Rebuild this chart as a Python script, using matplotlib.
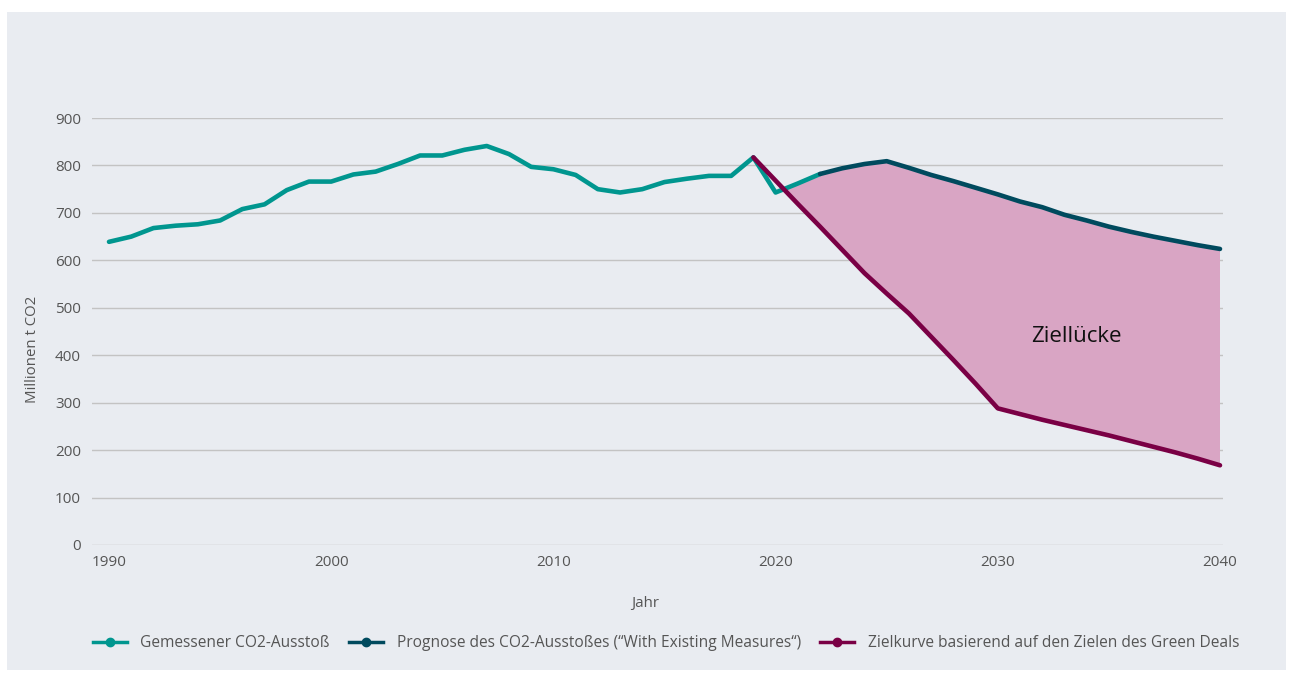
import matplotlib
matplotlib.use("Agg")
import matplotlib.pyplot as plt
from matplotlib.lines import Line2D
from matplotlib.patches import Rectangle
import numpy as np

plt.rcParams['font.family'] = ['Open Sans', 'DejaVu Sans']

# ---- data ----
years_measured = list(range(1990, 2023))
measured = [639, 650, 668, 673, 676, 684, 708, 718, 748, 766, 766, 781, 787, 803,
            821, 821, 833, 841, 824, 797, 792, 780, 750, 743, 750, 765, 772, 778,
            778, 817, 743, 762, 782]

years_forecast = list(range(2022, 2041))
forecast = [782, 794, 803, 809, 795, 780, 767, 753, 739, 724, 712, 696, 684, 671,
            660, 650, 641, 632, 624]

years_target = list(range(2019, 2041))
target = [817, 768, 719, 671, 622, 573, 530, 488, 439, 390, 340, 288,
          276, 264, 253, 242, 231, 219, 207, 195, 182, 168]

x_ticks = [1990, 2000, 2010, 2020, 2030, 2040]
y_ticks = [0, 100, 200, 300, 400, 500, 600, 700, 800, 900]

labels = ["Gemessener CO2-Ausstoß",
          "Prognose des CO2-Ausstoßes (\u201cWith Existing Measures\u201c)",
          "Zielkurve basierend auf den Zielen des Green Deals"]
gap_label = "Ziellücke"

# ---- colours ----
c_meas = "#00968f"
c_fc = "#004a5e"
c_tg = "#7a0045"
c_fill = "#d9a5c4"
c_bg = "#e9ecf1"
c_grid = "#c3c3c3"
c_text = "#555555"

W, H = 1293, 673
fig = plt.figure(figsize=(W / 100, H / 100), dpi=100)
fig.patch.set_facecolor("white")
fig.patches.append(Rectangle((7 / W, 1 - 670 / H), (1286 - 7) / W, (670 - 12) / H,
                             transform=fig.transFigure, facecolor=c_bg,
                             edgecolor="none", zorder=-10))

ax = fig.add_axes([92 / W, 1 - 545 / H, (1223 - 92) / W, (545 - 118) / H])
ax.set_facecolor("none")

# fill between upper curve (measured until 2022 then forecast) and target
upper_years = years_target
upper_map = dict(zip(years_measured, measured))
upper_map.update(dict(zip(years_forecast, forecast)))
upper = [upper_map[y] for y in upper_years]
ax.fill_between(upper_years, target, upper,
                where=np.array(upper) >= np.array(target),
                interpolate=True, color=c_fill, lw=0, zorder=1)

ax.plot(years_measured, measured, color=c_meas, lw=3.3, zorder=3,
        solid_capstyle="round", clip_on=False)
ax.plot(years_forecast, forecast, color=c_fc, lw=3.3, zorder=4,
        solid_capstyle="round", clip_on=False)
ax.plot(years_target, target, color=c_tg, lw=3.3, zorder=5,
        solid_capstyle="round", clip_on=False)

ax.text(2031.5, 440, gap_label, fontsize=16, color="#111111",
        va="center", ha="left", zorder=6)

ax.set_xlim(1989.235, 2040.135)
ax.set_ylim(0, 900)
ax.set_xticks(x_ticks)
ax.set_yticks(y_ticks)
ax.tick_params(axis="both", length=0, labelsize=11, labelcolor=c_text)
ax.tick_params(axis="y", pad=8)
ax.tick_params(axis="x", pad=7)
ax.grid(axis="y", color=c_grid, lw=1)
ax.set_axisbelow(True)
for s in ax.spines.values():
    s.set_visible(False)

fig.text(645 / W, 1 - 603 / H, "Jahr", fontsize=10.8, color=c_text,
         ha="center", va="center")
fig.text(32 / W, 1 - 349 / H, "Millionen t CO2", fontsize=10.8, color=c_text,
         ha="center", va="center", rotation=90)

handles = [Line2D([], [], color=c, lw=2.5, marker="o", markersize=6)
           for c in (c_meas, c_fc, c_tg)]
fig.legend(handles, labels, loc="center", bbox_to_anchor=(666 / W, 1 - 643 / H),
           ncol=3, frameon=False, fontsize=11.2, labelcolor=c_text,
           handlelength=2.2, columnspacing=1.25, handletextpad=0.85)

fig.savefig("out.png", dpi=100, facecolor="white")
